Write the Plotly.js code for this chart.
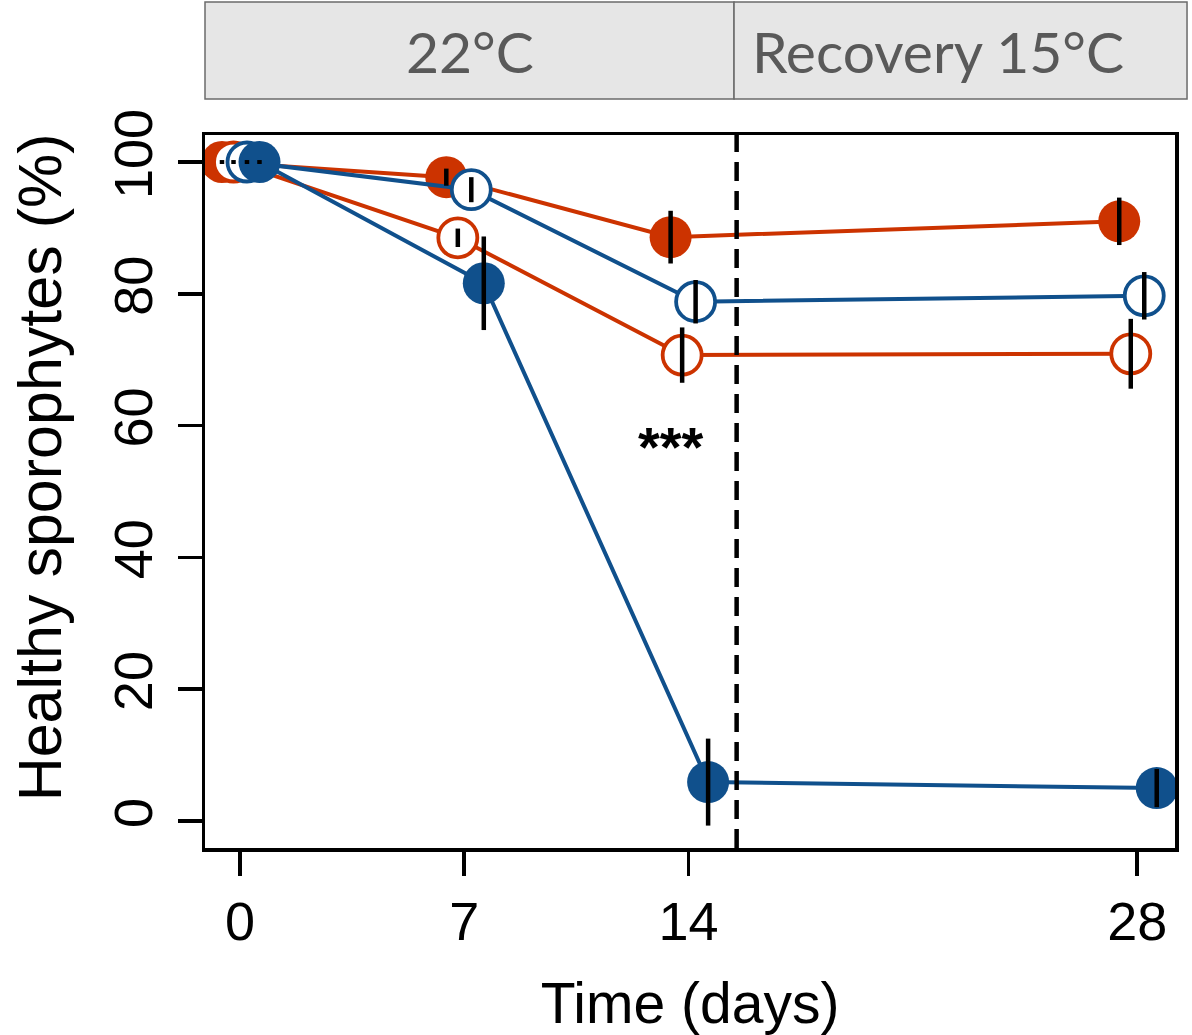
<!DOCTYPE html>
<html>
<head>
<meta charset="utf-8">
<script src="https://cdn.plot.ly/plotly-3.0.1.min.js"></script>
<style>html,body{margin:0;padding:0;background:#fff;}#chart{width:1192px;height:1035px;}</style>
</head>
<body>
<div id="chart"></div>
<script>
// ---- data ----
const days = [0, 7, 14, 28];
const seriesNames = ["Red filled", "Red open", "Blue open", "Blue filled"];
const redFilled = [100, 97.7, 88.6, 91.0];
const redFilledErr = [0.3, 1.3, 4.0, 3.6];
const redOpen = [100, 88.5, 70.7, 70.9];
const redOpenErr = [0.3, 1.4, 4.2, 5.3];
const blueOpen = [100, 95.8, 78.8, 79.7];
const blueOpenErr = [0.3, 1.9, 3.3, 3.6];
const blueFilled = [100, 81.6, 5.9, 5.0];
const blueFilledErr = [0.3, 7.1, 6.6, 2.9];
const dodge = [-0.56, -0.2, 0.22, 0.61];   // horizontal offset of each series (days)
const phaseLabels = ["22°C", "Recovery 15°C"];
const recoveryStart = 15.5;
const yTicks = [0, 20, 40, 60, 80, 100];
const xTitle = "Time (days)";
const yTitle = "Healthy sporophytes (%)";
const sigLabel = "***";
const sigPos = [13.45, 56.8];

const RED = "#CC3300", BLUE = "#10508C";
const values = [redFilled, redOpen, blueOpen, blueFilled];
const errs = [redFilledErr, redOpenErr, blueOpenErr, blueFilledErr];
const colors = [RED, RED, BLUE, BLUE];
const filled = [true, false, false, true];

const traces = [];
values.forEach((v, i) => {
  const xs = days.map(d => d + dodge[i]);
  traces.push({
    type: "scatter", mode: "lines+markers", name: seriesNames[i],
    x: xs, y: v,
    line: {color: colors[i], width: 4},
    marker: filled[i]
      ? {color: colors[i], size: 42, line: {width: 0}}
      : {color: "#ffffff", size: 39, line: {color: colors[i], width: 3.8}},
    hoverinfo: "x+y", showlegend: false
  });
});
values.forEach((v, i) => {
  const xs = days.map(d => d + dodge[i]);
  traces.push({
    type: "scatter", mode: "markers", x: xs, y: v,
    marker: {color: "rgba(0,0,0,0)", size: 1},
    error_y: {type: "data", array: errs[i], visible: true, color: "#000", thickness: 4.5, width: 0},
    hoverinfo: "skip", showlegend: false
  });
});

const axisFont = {family: "Liberation Sans, Arial, sans-serif", size: 54, color: "#000"};
const layout = {
  width: 1192, height: 1035,
  margin: {l: 205, r: 17, t: 135, b: 187},
  paper_bgcolor: "#fff", plot_bgcolor: "#fff",
  showlegend: false,
  xaxis: {
    range: [-1.09, 29.18], tickvals: days, ticktext: days.map(String),
    ticks: "outside", ticklen: 24, tickwidth: 3.5, tickcolor: "#000",
    showline: true, mirror: true, linewidth: 3.5, linecolor: "#000",
    showgrid: false, zeroline: false, tickfont: axisFont,
    title: {text: xTitle, font: {family: axisFont.family, size: 57, color: "#000"}, standoff: 38}
  },
  yaxis: {
    range: [-4.1, 104.1], tickvals: yTicks, ticktext: yTicks.map(String),
    tickangle: -90, ticklabelstandoff: 4,
    ticks: "outside", ticklen: 24, tickwidth: 3.5, tickcolor: "#000",
    showline: true, mirror: true, linewidth: 3.5, linecolor: "#000",
    showgrid: false, zeroline: false, tickfont: axisFont
  },
  shapes: [
    {type: "line", xref: "x", yref: "paper", x0: recoveryStart, x1: recoveryStart, y0: 0, y1: 1,
     line: {color: "#000", width: 4.5, dash: "19px,10px"}},
    {type: "rect", xref: "paper", yref: "paper", x0: 0, x1: 0.5454, y0: 1.0505, y1: 1.1865,
     fillcolor: "#e6e6e6", line: {color: "#6b6b6b", width: 1.5}},
    {type: "rect", xref: "paper", yref: "paper", x0: 0.5454, x1: 1.0124, y0: 1.0505, y1: 1.1865,
     fillcolor: "#e6e6e6", line: {color: "#6b6b6b", width: 1.5}}
  ],
  annotations: [
    {xref: "paper", yref: "paper", x: 0.2727, y: 1.1185, text: phaseLabels[0], showarrow: false,
     font: {family: "Lato, sans-serif", size: 57, color: "#595959"}, xanchor: "center", yanchor: "middle"},
    {xref: "paper", yref: "paper", x: 0.7557, y: 1.1185, text: phaseLabels[1], showarrow: false,
     font: {family: "Lato, sans-serif", size: 57, color: "#595959"}, xanchor: "center", yanchor: "middle"},
    {xref: "paper", yref: "paper", x: -0.170, y: 0.534, text: yTitle, showarrow: false, textangle: -90,
     font: {family: axisFont.family, size: 61, color: "#000"}, xanchor: "center", yanchor: "middle"},
    {xref: "x", yref: "y", x: sigPos[0], y: sigPos[1], text: "<b>" + sigLabel + "</b>", showarrow: false,
     font: {family: "Liberation Sans, Arial, sans-serif", size: 56, color: "#000"}, xanchor: "center", yanchor: "middle"}
  ]
};
Plotly.newPlot("chart", traces, layout, {staticPlot: true, displayModeBar: false});
</script>
</body>
</html>
